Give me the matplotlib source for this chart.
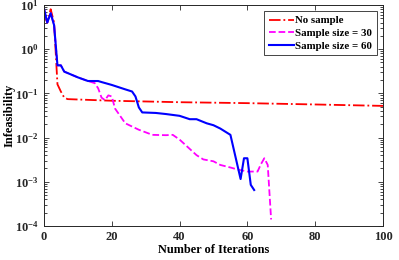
import matplotlib
matplotlib.use('Agg')
from matplotlib import pyplot as plt
from matplotlib.ticker import LogLocator, NullFormatter

plt.rcParams['font.family'] = 'serif'
plt.rcParams['font.serif'] = ['Liberation Serif']
plt.rcParams['font.weight'] = 'bold'
plt.rcParams['mathtext.fontset'] = 'custom'
plt.rcParams['mathtext.rm'] = 'Liberation Serif:bold'
plt.rcParams['mathtext.it'] = 'Liberation Serif:bold'
plt.rcParams['mathtext.bf'] = 'Liberation Serif:bold'

#Iteration numbers and infeasibility for each run
x_nosample = [0, 1, 2, 3, 4, 5, 6, 7, 20, 40, 60, 80, 100]
y_nosample = [6.0, 4.0, 8.0, 4.0, 0.16, 0.11, 0.08, 0.074, 0.068, 0.063, 0.060, 0.056, 0.052]

x_s30 = [0, 1, 2, 3, 4, 5, 6, 10, 13, 15, 16, 17, 18, 19, 20, 21, 24, 28, 32, 36, 38, 40,
         45, 47, 50, 52, 55, 57, 60, 63, 64, 65, 66, 67]
y_s30 = [8.5, 4.0, 6.5, 3.5, 0.43, 0.43, 0.31, 0.23, 0.19, 0.17, 0.13, 0.08, 0.07, 0.09,
         0.085, 0.045, 0.021, 0.015, 0.0115, 0.0113, 0.0115, 0.009, 0.0040, 0.0032, 0.0029,
         0.0024, 0.0021, 0.0019, 0.0017, 0.0017, 0.0025, 0.0034, 0.0024, 0.00014]

x_s60 = [0, 1, 2, 3, 4, 5, 6, 10, 13, 16, 17, 20, 24, 26, 27, 28, 29, 33, 36, 40, 43, 45,
         48, 50, 52, 55, 58, 59, 60, 61, 62]
y_s60 = [8.5, 4.0, 6.5, 3.5, 0.43, 0.43, 0.31, 0.23, 0.19, 0.19, 0.18, 0.155, 0.123, 0.11,
         0.085, 0.048, 0.037, 0.036, 0.034, 0.031, 0.026, 0.026, 0.021, 0.019, 0.016, 0.0115,
         0.00115, 0.0034, 0.0034, 0.00085, 0.00065]

fig = plt.figure(figsize=(3.99, 2.60), dpi=100)
ax = fig.add_axes([0.110, 0.131, 0.850, 0.850])

ax.semilogy(x_nosample, y_nosample, color='red', linestyle='-.', linewidth=1.3, label='No sample')
ax.semilogy(x_s30, y_s30, color='magenta', linestyle='--', linewidth=1.3, label='Sample size = 30')
ax.semilogy(x_s60, y_s60, color='blue', linestyle='-', linewidth=1.5, label='Sample size = 60')

ax.set_xlim(0, 100)
ax.set_ylim(1e-4, 1e1)
ax.set_xticks([0, 20, 40, 60, 80, 100])
ax.yaxis.set_major_locator(LogLocator(base=10, numticks=10))
ax.yaxis.set_minor_locator(LogLocator(base=10, subs=range(2, 10), numticks=10))
ax.yaxis.set_minor_formatter(NullFormatter())
ax.tick_params(which='both', direction='in', top=True, right=True, labelsize=9, width=0.6, colors='#262626')
ax.tick_params(which='major', length=3.5)
ax.tick_params(which='minor', length=2)
for s in ax.spines.values():
    s.set_linewidth(0.7)
    s.set_color('#262626')

ax.set_xlabel('Number of Iterations', fontsize=8.8, fontweight='bold', labelpad=1)
ax.set_ylabel('Infeasibility', fontsize=8.8, fontweight='bold', labelpad=0)

leg = ax.legend(loc='upper right', fontsize=7.8, handlelength=2.3, handletextpad=0.15,
                borderpad=0.4, labelspacing=0.3, fancybox=False, framealpha=1,
                edgecolor='#262626', borderaxespad=0.6)
leg.get_frame().set_linewidth(0.6)

fig.savefig('out.png', dpi=100)
